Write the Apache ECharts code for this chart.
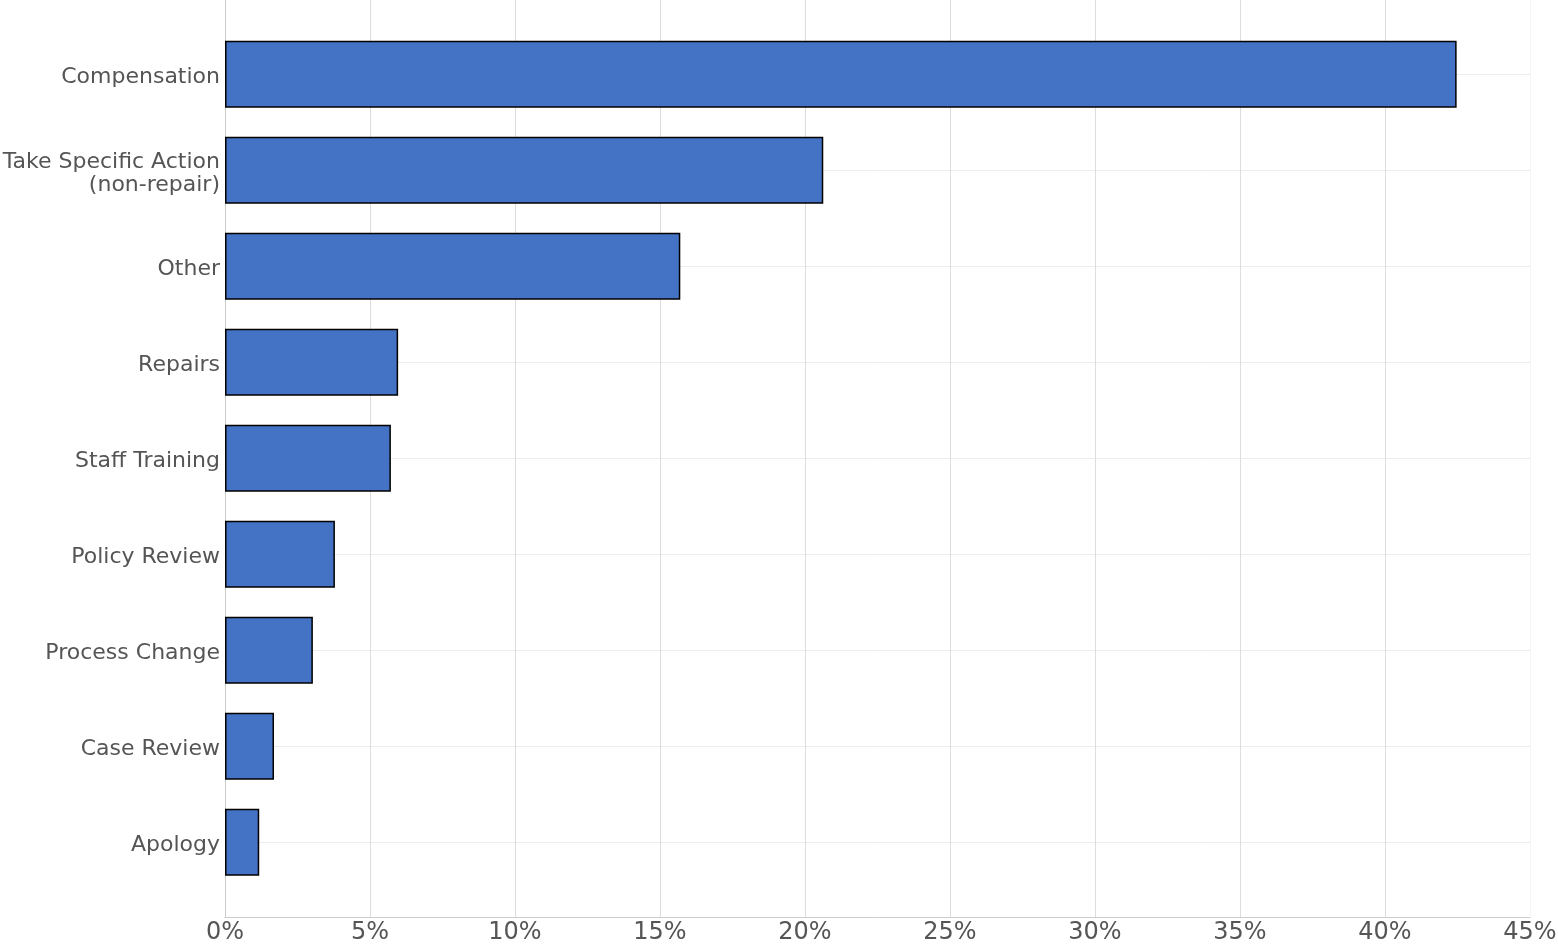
<html><head>
<meta charset="UTF-8">
<title>Outcomes</title>
<style>
  body { margin: 0; background: #fff; }
  #chart { width: 1558px; height: 946px; }
</style>
</head>
<body>
  <div id="chart"></div>
  <script src="https://cdn.jsdelivr.net/npm/echarts@6/dist/echarts.min.js"></script>
  <script>
    // categories top to bottom
    const categories = [
      'Compensation',
      'Take Specific Action\n(non-repair)',
      'Other',
      'Repairs',
      'Staff Training',
      'Policy Review',
      'Process Change',
      'Case Review',
      'Apology'
    ];
    // share of cases, percent
    const shares = [42.47, 20.63, 15.70, 5.97, 5.72, 3.79, 3.03, 1.69, 1.18];
    const xTicks = [0, 5, 10, 15, 20, 25, 30, 35, 40, 45];

    const chart = echarts.init(document.getElementById('chart'));
    const font = 'DejaVu Sans';
    const vColors = xTicks.map((t, i) => i === xTicks.length - 1 ? '#f4f4f4' : '#dddddd');

    chart.setOption({
      animation: false,
      grid: [
        // full plot area: x axis + vertical grid lines
        { left: 225, right: 28, top: 0, height: 917, outerBoundsMode: 'none' },
        // bars, category centres 96px apart
        { left: 225, right: 28, top: 74.3, height: 768, outerBoundsMode: 'none' },
        // category labels, nudged down a little
        { left: 225, right: 28, top: 77.3, height: 768, outerBoundsMode: 'none' }
      ],
      xAxis: [
        {
          type: 'value', gridIndex: 0, min: 0, max: 45, interval: 5,
          axisLine: { show: true, lineStyle: { color: '#cccccc', width: 1 } },
          axisTick: { show: false },
          axisLabel: { formatter: v => v + '%', color: '#555555', fontFamily: font, fontSize: 24, margin: 4 },
          splitLine: { show: true, lineStyle: { color: vColors, width: 1 } }
        },
        { type: 'value', gridIndex: 1, min: 0, max: 45, show: false },
        { type: 'value', gridIndex: 2, min: 0, max: 45, show: false }
      ],
      yAxis: [
        {
          type: 'category', gridIndex: 0, data: categories, inverse: true,
          axisLine: { show: true, lineStyle: { color: '#cccccc' } },
          axisTick: { show: false }, axisLabel: { show: false }, splitLine: { show: false }
        },
        {
          type: 'category', gridIndex: 1, data: categories, inverse: true,
          boundaryGap: false,
          axisLine: { show: false },
          axisTick: { show: false },
          axisLabel: { show: false },
          splitLine: { show: true, lineStyle: { color: '#ececec', width: 1 } }
        },
        {
          type: 'category', gridIndex: 2, data: categories, inverse: true,
          boundaryGap: false,
          axisLine: { show: false },
          axisTick: { show: false },
          axisLabel: { color: '#555555', fontFamily: font, fontSize: 22, margin: 5, lineHeight: 23, align: 'right' },
          splitLine: { show: false }
        }
      ],
      series: [
        {
          type: 'bar', xAxisIndex: 1, yAxisIndex: 1, clip: false,
          data: shares, barWidth: 67,
          itemStyle: { color: '#4472C4', borderColor: '#000000', borderWidth: 1.5 }
        }
      ]
    });
  </script>
</body>
</html>
